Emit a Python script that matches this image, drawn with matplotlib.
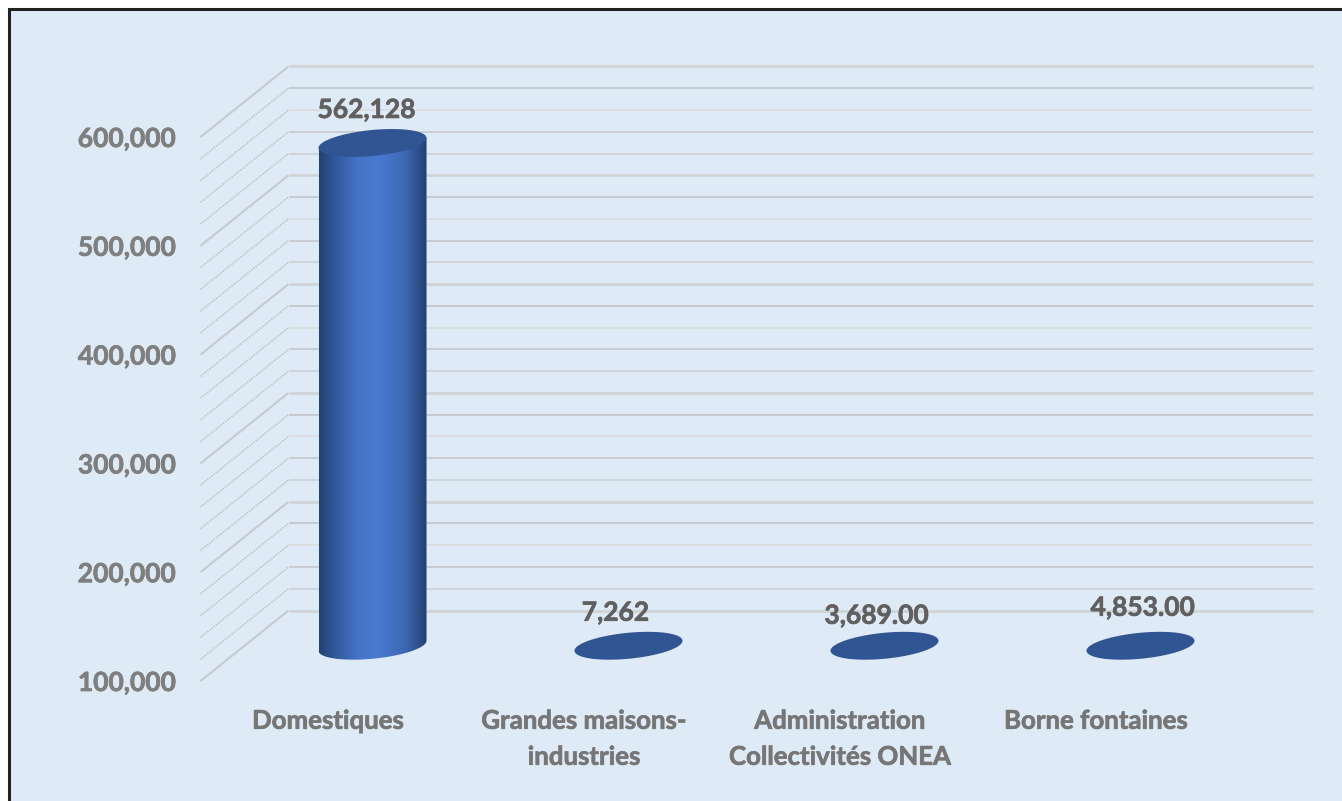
import numpy as np
import matplotlib
matplotlib.use("Agg")
import matplotlib.pyplot as plt
import matplotlib.patheffects as pe
from matplotlib.colors import LinearSegmentedColormap
from matplotlib.patches import Polygon, Rectangle

categories = ["Domestiques", "Grandes maisons-\nindustries",
              "Administration\nCollectivités ONEA", "Borne fontaines"]
values = [562128, 7262, 3689, 4853]
value_labels = ["562,128", "7,262", "3,689.00", "4,853.00"]
label_shift_px = [(-6, 33), (-13, 33), (-8, 30), (2, 38)]
y_min, y_max, minor_step, major_step = 100000, 600000, 20000, 100000

W, H = 1342, 801
plt.rcParams["font.family"] = ["Lato", "DejaVu Sans"]
fig = plt.figure(figsize=(W / 100, H / 100), dpi=100, facecolor="white")

# panel with frame
fig.add_artist(Rectangle((9 / W, -0.01), 1.1, 1 - 9 / H + 0.01, transform=fig.transFigure,
                         fc="#DEEAF6", ec="#222222", lw=2.2, zorder=-5))

# front plane of the pseudo-3D box
x0, x1, ytop, ybot = 200.5, 1224.5, 137, 681
ax = fig.add_axes([x0 / W, 1 - ybot / H, (x1 - x0) / W, (ybot - ytop) / H])
ax.patch.set_alpha(0)
ax.set_xlim(-0.5, 3.5)
ax.set_ylim(y_min, y_max)
for s in ax.spines.values():
    s.set_visible(False)

px_x = 4 / (x1 - x0)
px_y = (y_max - y_min) / (ybot - ytop)
depth_x = 88 * px_x
depth_y = 70.5 * px_y

ticks = np.arange(y_min, y_max + 1, minor_step)
shades = [("#D0D4D7", 2.0), ("#BEC2C6", 1.1), ("#DADEE1", 1.4), ("#C2C6CA", 1.1), ("#CACED1", 1.1)]
for i, t in enumerate(ticks):
    c, w = shades[(len(ticks) - 1 - i) % 5]
    ax.plot([-0.5 + depth_x, 3.5 + depth_x], [t + depth_y] * 2, color=c, lw=w,
            clip_on=False, solid_capstyle="butt", zorder=1)
    major = i % 5 == 0
    ax.plot([-0.5, -0.5 + depth_x], [t, t + depth_y], color="#C6CACD" if major else "#C2C6C9",
            lw=1.5 if major else 1.2, ls="-" if major else (0, (1, 0.7)),
            clip_on=False, solid_capstyle="butt", zorder=1)

heavy = [pe.withStroke(linewidth=0.5, foreground="#7A7A7A")]
ax.set_yticks(np.arange(y_min, y_max + 1, major_step))
ax.set_yticklabels([f"{v:,}" for v in np.arange(y_min, y_max + 1, major_step)],
                   fontsize=19, fontweight="bold", color="#7F7F7F", path_effects=heavy)
ax.set_xticks(range(4))
ax.set_xticklabels(categories, fontsize=18.6, fontweight="bold", color="#767676",
                   linespacing=1.6, path_effects=heavy)
ax.tick_params(length=0)
ax.tick_params(axis="y", pad=18)
ax.tick_params(axis="x", pad=20)

# cylinders sit at mid depth
A, B, S = 54 * px_x, 13 * px_y, 5 * px_y
t = np.linspace(0, 2 * np.pi, 181)
cmap = LinearSegmentedColormap.from_list(
    "cyl", [(0, "#22406F"), (0.12, "#2F5597"), (0.35, "#4472C4"), (0.55, "#4A79D2"),
            (0.8, "#3D68B2"), (1, "#22406F")])
grad = np.linspace(0, 1, 256)[None, :]

for i, v in enumerate(values):
    cx = i + depth_x / 2
    base = y_min + depth_y / 2
    cy = max(v, y_min) + depth_y / 2
    if v > y_min:
        lower = np.linspace(np.pi, 2 * np.pi, 91)
        xs = np.r_[cx + A * np.cos(lower), cx + A, cx - A]
        ys = np.r_[base + B * np.sin(lower) + S * np.cos(lower), cy + S, cy - S]
        poly = Polygon(np.c_[xs, ys], closed=True, transform=ax.transData, fc="none", ec="none")
        ax.add_patch(poly)
        im = ax.imshow(grad, cmap=cmap, extent=[cx - A, cx + A, base - 2 * B, cy + S],
                       aspect="auto", zorder=3, interpolation="bilinear")
        im.set_clip_path(poly)
    ax.fill(cx + A * np.cos(t), cy + B * np.sin(t) + S * np.cos(t), color="#315493",
            lw=0, zorder=4, clip_on=False)
    dx, dy = label_shift_px[i]
    ax.annotate(value_labels[i], (cx, cy), xytext=(dx * 0.72, dy * 0.72),
                textcoords="offset points", ha="center", va="center",
                fontsize=19, fontweight="bold", color="#606060", zorder=5,
                annotation_clip=False,
                path_effects=[pe.withStroke(linewidth=0.5, foreground="#606060")])

ax.set_xlim(-0.5, 3.5)
ax.set_ylim(y_min, y_max)
fig.savefig("out.png", dpi=100)
